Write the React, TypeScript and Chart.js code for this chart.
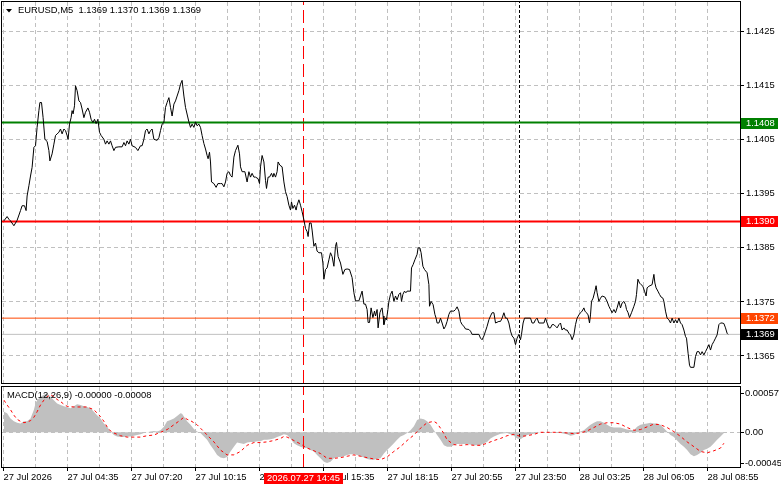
import React, { useEffect, useRef } from 'react';
import { Chart, registerables } from 'chart.js';

Chart.register(...registerables);

const FONT_FAMILY = '"Liberation Sans", Arial, sans-serif';
const FONT_SIZE = 9.4;
const GRID_COLOR = '#c0c0c0';

const headerText = 'EURUSD,M5  1.1369 1.1370 1.1369 1.1369';
const macdTitle = 'MACD(12,26,9) -0.00000 -0.00008';

// [bar index (M5 bars from 27 Jul 00:00), close price]
const priceSeries: [number, number][] = [
  [0.2, 1.139], [1.8, 1.13908], [2.7, 1.13903], [3.5, 1.139], [5.2, 1.13891], [6.8, 1.13901], [8.5, 1.13919],
  [9.3, 1.13928], [10.5, 1.13928], [11.3, 1.13919], [11.8, 1.13946], [12.7, 1.13965], [13.5, 1.13983], [14.3, 1.13999],
  [15.2, 1.14036], [16, 1.14039], [16.8, 1.14073], [17.7, 1.14104], [18.2, 1.14119], [19, 1.14119], [19.8, 1.14091],
  [20.7, 1.14051], [21.8, 1.14047], [22.7, 1.1403], [23.2, 1.14011], [24.3, 1.14024], [25.2, 1.14042], [26, 1.14058],
  [26.8, 1.14061], [27.7, 1.14064], [28.5, 1.1407], [29.3, 1.14061], [30.2, 1.1407], [31, 1.14067], [31.8, 1.14058],
  [32.3, 1.14051], [33, 1.14079], [33.8, 1.14091], [34.3, 1.14104], [34.8, 1.14098], [35.5, 1.14113], [36, 1.1415],
  [36.8, 1.14141], [37.7, 1.14122], [38.5, 1.14119], [39.3, 1.14107], [40.2, 1.14091], [41, 1.14101], [42.2, 1.14109],
  [43, 1.14101], [43.8, 1.14088], [44.7, 1.14082], [45.5, 1.14088], [46.3, 1.1408], [47.2, 1.14088], [48, 1.14064],
  [48.8, 1.14058], [50.2, 1.14051], [51, 1.14042], [51.8, 1.14048], [52.7, 1.14042], [53.5, 1.14048], [54.3, 1.14039],
  [55.2, 1.1403], [56, 1.14036], [57.7, 1.14037], [59.3, 1.14037], [60.2, 1.14045], [61, 1.14039], [61.8, 1.14048],
  [62.7, 1.14042], [63.5, 1.14051], [64.3, 1.14039], [66, 1.14036], [67.2, 1.1403], [68.5, 1.14039], [69.3, 1.14039],
  [70.2, 1.14051], [71, 1.14067], [71.8, 1.1407], [72.7, 1.14061], [73.5, 1.14067], [74.3, 1.1407], [75.2, 1.14051],
  [76.8, 1.14049], [77.7, 1.14054], [78.5, 1.14067], [79.3, 1.14079], [80.2, 1.14082], [81, 1.1411], [81.8, 1.14119],
  [82.7, 1.14128], [83.5, 1.1411], [84.3, 1.14094], [85.2, 1.14116], [86, 1.14122], [86.8, 1.14131], [87.7, 1.14141],
  [88.5, 1.14153], [89.3, 1.1416], [90.2, 1.14131], [91, 1.1411], [92.7, 1.14083], [93.5, 1.14073], [94.3, 1.14079],
  [95.2, 1.14073], [96, 1.14083], [96.8, 1.14076], [97.7, 1.14079], [98.5, 1.14073], [99.3, 1.14058], [100.2, 1.14043],
  [101, 1.14033], [101.8, 1.14021], [102.3, 1.14015], [103, 1.14027], [103.5, 1.14009], [104, 1.13972], [105.2, 1.13969],
  [106.3, 1.13962], [107.2, 1.13969], [108.5, 1.13969], [109.3, 1.13969], [110.2, 1.13963], [111, 1.13972], [111.8, 1.13988],
  [112.7, 1.13991], [113.5, 1.13984], [114.3, 1.13981], [115.2, 1.14018], [116, 1.1403], [117.2, 1.1404], [118, 1.14024],
  [118.5, 1.14], [119.3, 1.13991], [120.7, 1.13991], [121.8, 1.13972], [122.7, 1.13991], [123.5, 1.13981], [124.3, 1.13988],
  [125.2, 1.13981], [126, 1.13981], [127.3, 1.13978], [128, 1.13969], [128.5, 1.14], [129.3, 1.14021], [130.2, 1.14009],
  [131, 1.13975], [131.5, 1.1396], [132.3, 1.13981], [133, 1.13981], [134, 1.13988], [134.7, 1.13981], [135.2, 1.13988],
  [136, 1.13981], [136.8, 1.13991], [137.3, 1.14009], [138.2, 1.14003], [139.3, 1.14], [140.2, 1.13972], [141, 1.13954],
  [141.8, 1.13945], [142.7, 1.13929], [143.5, 1.1392], [144, 1.13935], [144.7, 1.13923], [145.5, 1.13929], [146.3, 1.1392],
  [146.8, 1.13929], [147.7, 1.13939], [148.5, 1.13929], [149.3, 1.13917], [150.2, 1.13902], [151, 1.13886], [151.8, 1.1388],
  [152.3, 1.13871], [153, 1.13896], [153.8, 1.13896], [154.3, 1.13883], [155.2, 1.13853], [156, 1.13859], [156.8, 1.13844],
  [157.7, 1.13841], [159, 1.13841], [159.7, 1.13822], [160.2, 1.13792], [161, 1.1381], [161.8, 1.13813], [162.7, 1.13828],
  [163.5, 1.13841], [164.3, 1.13834], [165.2, 1.13816], [166, 1.13853], [166.5, 1.1386], [167.3, 1.13834], [168.5, 1.13822],
  [169.7, 1.13801], [170.7, 1.1381], [171.8, 1.13811], [173, 1.1381], [174.3, 1.13795], [175.2, 1.13767], [176, 1.13752],
  [177.7, 1.13752], [178.5, 1.13761], [179.3, 1.1377], [180.2, 1.13746], [181, 1.13746], [181.8, 1.13736], [182.3, 1.13712],
  [183, 1.13712], [183.8, 1.13739], [184.7, 1.13721], [185.5, 1.13733], [186, 1.13724], [186.8, 1.13736], [187.3, 1.13702],
  [188.2, 1.1373], [188.8, 1.13736], [189.3, 1.13739], [189.8, 1.13724], [190.2, 1.13708], [191, 1.1372], [191.5, 1.13717],
  [192.2, 1.13736], [192.7, 1.13751], [193.5, 1.13764], [194.3, 1.1377], [195.2, 1.13751], [196, 1.13761], [196.8, 1.13754],
  [197.7, 1.13764], [198.5, 1.13767], [199, 1.13751], [199.7, 1.13764], [200.5, 1.1377], [201.2, 1.13767], [201.8, 1.1377],
  [203.5, 1.1377], [204, 1.13813], [204.8, 1.13819], [205.7, 1.13828], [206.8, 1.13838], [207.3, 1.1385], [208.2, 1.1385],
  [208.8, 1.13841], [209.7, 1.13816], [210.5, 1.1381], [211.8, 1.13804], [212.7, 1.13782], [213, 1.13742], [213.8, 1.13751],
  [214.8, 1.13745], [215.7, 1.13727], [216.3, 1.1372], [216.8, 1.13711], [217.7, 1.13711], [218.5, 1.1372], [219.3, 1.13711],
  [220.2, 1.137], [221, 1.13705], [221.8, 1.13714], [222.7, 1.13727], [223.5, 1.13733], [225.2, 1.13733], [226, 1.13736],
  [226.8, 1.13741], [227.7, 1.13733], [228.5, 1.13714], [229.3, 1.13708], [230.2, 1.13705], [231, 1.137], [232.7, 1.13699],
  [233.5, 1.13696], [234.3, 1.1369], [237.7, 1.1369], [238.5, 1.13683], [239.3, 1.1368], [240.2, 1.13687], [241, 1.13696],
  [241.8, 1.13705], [242.7, 1.13717], [243.5, 1.13724], [244.3, 1.1373], [245.2, 1.1373], [246, 1.13711], [247.7, 1.13714],
  [248.5, 1.13714], [249.3, 1.1372], [250.2, 1.1373], [251, 1.1372], [251.8, 1.1372], [252.7, 1.13711], [253.5, 1.13696],
  [254.3, 1.13687], [255.2, 1.13683], [256, 1.13671], [256.8, 1.13683], [257.7, 1.1369], [258.5, 1.1368], [259, 1.1369],
  [259.8, 1.13711], [260.5, 1.1372], [263.5, 1.1372], [264.3, 1.13711], [265.2, 1.13711], [266, 1.13717], [266.8, 1.1372],
  [267.7, 1.13711], [270.2, 1.13711], [271, 1.1372], [271.8, 1.13711], [272.7, 1.13702], [273.5, 1.13702], [274.3, 1.13708],
  [275.2, 1.13708], [276, 1.13705], [276.8, 1.13702], [277.7, 1.13708], [278.5, 1.13711], [279.3, 1.13698], [280.2, 1.13702],
  [281, 1.13698], [281.8, 1.13698], [282.7, 1.13692], [283.5, 1.13689], [284.3, 1.1368], [285.2, 1.13689], [286, 1.13708],
  [286.8, 1.1372], [287.7, 1.13726], [288.5, 1.1373], [289.3, 1.13733], [290.2, 1.13739], [290.7, 1.13733], [291.5, 1.1373],
  [292.3, 1.13726], [293, 1.13711], [293.5, 1.13726], [294, 1.13751], [294.8, 1.13757], [295.7, 1.1377], [296.3, 1.1378],
  [296.8, 1.13767], [297.7, 1.13751], [298.5, 1.13757], [299.3, 1.13761], [300.7, 1.13759], [301.8, 1.13751], [302.7, 1.13742],
  [303.5, 1.13736], [304.3, 1.1373], [305.2, 1.13736], [306, 1.1373], [306.8, 1.13739], [307.7, 1.13751], [308.5, 1.13739],
  [309.3, 1.13748], [310.2, 1.13751], [311, 1.13745], [311.5, 1.13736], [312.3, 1.1373], [313, 1.13721], [314, 1.1373],
  [315.2, 1.13742], [316, 1.13751], [316.5, 1.13764], [317.2, 1.13792], [318, 1.13785], [318.8, 1.13782], [319.7, 1.13779],
  [320.5, 1.1377], [321.3, 1.13761], [321.8, 1.13776], [322.7, 1.13779], [324.3, 1.13782], [325.2, 1.13801], [325.7, 1.13785],
  [326.3, 1.13776], [327.2, 1.1377], [328, 1.13764], [328.8, 1.13759], [329.7, 1.13757], [330.2, 1.13751], [331, 1.13733],
  [331.8, 1.1372], [332.7, 1.13717], [333.5, 1.13711], [334.3, 1.1372], [335.2, 1.13711], [336, 1.13717], [336.8, 1.13711],
  [337.7, 1.1372], [338.5, 1.13711], [339.3, 1.13708], [340.2, 1.13698], [341, 1.13686], [341.5, 1.13683], [342.3, 1.13655],
  [343, 1.13633], [343.5, 1.13629], [345.2, 1.13629], [346, 1.13649], [346.8, 1.13658], [347.7, 1.13658], [348.5, 1.13652],
  [349.3, 1.13658], [350.2, 1.13652], [351, 1.13658], [351.8, 1.13664], [352.7, 1.13671], [353.5, 1.13661], [354.3, 1.13671],
  [355.2, 1.13677], [356, 1.13683], [356.8, 1.13689], [357.7, 1.13708], [358.5, 1.13711], [359.3, 1.13711], [360.2, 1.1371],
  [361, 1.13702], [361.8, 1.13692], [362.3, 1.1369],
];

// [bar index, MACD histogram value]
const macdHistogram: [number, number][] = [
  [0.2, 0.0003], [1.8, 0.00028], [3.5, 0.0002], [5.2, 0.00016], [6.8, 0.00014], [8.5, 0.00013], [10.2, 0.00016],
  [11.8, 0.00016], [13.5, 0.0002], [15.2, 0.00033], [16, 0.00042], [16.8, 0.00047], [18.5, 0.00052], [20.2, 0.00055],
  [21.8, 0.00057], [23.5, 0.00052], [25.2, 0.00047], [26.8, 0.00042], [28.5, 0.0004], [30.2, 0.00038], [31.8, 0.00037],
  [33.5, 0.00035], [35.2, 0.00038], [36.8, 0.00041], [38.5, 0.0004], [40.2, 0.00038], [41.8, 0.00037], [43.5, 0.00035],
  [45.2, 0.0003], [46.8, 0.00025], [48.5, 0.0002], [50.2, 0.00013], [51.8, 0.00008], [53.5, 0.00001], [55.2, -0.00004],
  [56.8, -0.00006], [58.5, -0.00007], [60.2, -0.00007], [61.8, -0.00006], [63.5, -0.00006], [65.2, -0.00005], [66.8, -0.00004],
  [68.5, -0.00003], [70.2, -0.00001], [71.8, 0], [73.5, 0.00001], [75.2, 0.00002], [76.8, 0.00001], [78.5, 0.00003],
  [80.2, 0.00008], [81.8, 0.00016], [83.5, 0.00018], [85.2, 0.0002], [86.8, 0.00024], [88.5, 0.00028], [89.3, 0.00027],
  [90.2, 0.00023], [91.8, 0.00016], [93.5, 0.00011], [95.2, 0.00005], [96.8, 0.00001], [98.5, -0.00001], [100.2, -0.00006],
  [101.8, -0.00011], [103.5, -0.00019], [105.2, -0.00026], [106.8, -0.00033], [108.5, -0.00037], [110.2, -0.00038],
  [111.8, -0.00036], [113.5, -0.00028], [115.2, -0.00021], [116.8, -0.00015], [118.5, -0.00016], [120.2, -0.00017],
  [121.8, -0.00015], [123.5, -0.00014], [125.2, -0.00014], [126.8, -0.00013], [128.5, -0.00013], [130.2, -0.00011],
  [131.8, -0.00011], [133.5, -0.0001], [135.2, -0.00009], [136.8, -0.00007], [138.5, -0.00005], [140.2, -0.00003],
  [141.8, -0.00004], [143.5, -0.00009], [145.2, -0.00016], [146.8, -0.00019], [148.5, -0.00021], [150.2, -0.00023],
  [151.8, -0.00023], [153.5, -0.00026], [155.2, -0.00028], [156.8, -0.00033], [158.5, -0.00038], [160.2, -0.00043],
  [161.8, -0.00045], [163.5, -0.00043], [165.2, -0.00038], [166.8, -0.00036], [168.5, -0.00036], [170.2, -0.00035],
  [171.8, -0.00033], [173.5, -0.00032], [175.2, -0.00032], [176.8, -0.00033], [178.5, -0.00035], [180.2, -0.00037],
  [181.8, -0.00039], [183.5, -0.0004], [185.2, -0.0004], [186.8, -0.00039], [188.5, -0.00038], [190.2, -0.00031],
  [191.8, -0.00026], [193.5, -0.00021], [195.2, -0.00016], [196.8, -0.00011], [198.5, -0.00006], [200.2, -0.00004],
  [201.8, -0.00001], [203.5, 0.00003], [205.2, 0.00009], [206.8, 0.00018], [208.5, 0.0002], [210.2, 0.00019],
  [211.8, 0.00016], [213.5, 0.00011], [215.2, 0.00003], [216.8, -0.00004], [218.5, -0.00011], [220.2, -0.00019],
  [221.8, -0.00021], [223.5, -0.00021], [225.2, -0.00019], [226.8, -0.00017], [228.5, -0.00017], [231.8, -0.00017],
  [235.2, -0.00019], [238.5, -0.00019], [240.2, -0.00016], [241.8, -0.00014], [243.5, -0.00009], [245.2, -0.00006],
  [248.5, -0.00002], [251.8, -0.00001], [255.2, -0.00005], [256.8, -0.00009], [258.5, -0.0001], [260.2, -0.00007],
  [261.8, -0.00004], [265.2, -0.00002], [268.5, 0], [271.8, 0], [275.2, 0], [278.5, -0.00001], [281.8, -0.00003],
  [283.5, -0.00005], [285.2, -0.00004], [288.5, 0.00001], [290.2, 0.00003], [291.8, 0.00007], [293.5, 0.00011],
  [295.2, 0.00014], [296.8, 0.00016], [298.5, 0.00016], [300.2, 0.00014], [301.8, 0.00011], [303.5, 0.00008],
  [305.2, 0.00007], [308.5, 0.00007], [311.8, 0.00004], [315.2, 0.00003], [316.8, 0.00008], [318.5, 0.00011],
  [320.2, 0.00012], [321.8, 0.00013], [323.5, 0.00014], [325.2, 0.00013], [326.8, 0.00013], [328.5, 0.00011],
  [330.2, 0.00006], [331.8, 0.00001], [333.5, -0.00004], [335.2, -0.00007], [336.8, -0.00012], [338.5, -0.00017],
  [340.2, -0.00021], [341.8, -0.00026], [343.5, -0.00032], [345.2, -0.00035], [346.8, -0.00033], [348.5, -0.0003],
  [350.2, -0.00026], [351.8, -0.00024], [353.5, -0.00021], [355.2, -0.00016], [356.8, -0.00011], [358.5, -0.00006],
  [360.2, -0.00001], [361.8, 0],
];

// [bar index, MACD signal value]
const macdSignal: [number, number][] = [
  [0.2, 0.00047], [1.8, 0.0004], [3.5, 0.00033], [5.2, 0.00025], [6.8, 0.00019], [8.5, 0.00016], [10.2, 0.00014],
  [11.8, 0.00015], [13.5, 0.00017], [15.2, 0.00022], [16.8, 0.0003], [18.5, 0.0004], [20.2, 0.00047], [21.8, 0.00052],
  [23.5, 0.00055], [25.2, 0.00052], [26.8, 0.00048], [28.5, 0.00045], [30.2, 0.00041], [31.8, 0.00038], [35.2, 0.00037],
  [38.5, 0.00037], [41.8, 0.00037], [45.2, 0.00033], [46.8, 0.00028], [48.5, 0.00023], [50.2, 0.00016], [51.8, 0.00008],
  [53.5, 0.00002], [55.2, -0.00001], [58.5, -0.00005], [61.8, -0.00007], [65.2, -0.00007], [68.5, -0.00007],
  [71.8, -0.00005], [75.2, -0.00004], [78.5, 0], [81.8, 0.00004], [85.2, 0.00011], [88.5, 0.00018], [90.2, 0.00022],
  [91.8, 0.00019], [93.5, 0.00017], [95.2, 0.00014], [96.8, 0.00011], [98.5, 0.00006], [100.2, 0.00001], [101.8, -0.00004],
  [105.2, -0.00014], [108.5, -0.00026], [111.8, -0.00033], [115.2, -0.00033], [118.5, -0.00028], [121.8, -0.00019],
  [125.2, -0.00015], [128.5, -0.00015], [131.8, -0.00014], [135.2, -0.00012], [138.5, -0.00009], [140.2, -0.00006],
  [141.8, -0.00007], [145.2, -0.00012], [148.5, -0.00017], [151.8, -0.00023], [155.2, -0.00027], [158.5, -0.00031],
  [161.8, -0.00038], [165.2, -0.00038], [168.5, -0.00037], [171.8, -0.00035], [175.2, -0.00033], [178.5, -0.00035],
  [181.8, -0.00037], [185.2, -0.00039], [188.5, -0.0004], [191.8, -0.00036], [195.2, -0.00028], [198.5, -0.00021],
  [201.8, -0.00012], [205.2, -0.00004], [208.5, 0.00006], [211.8, 0.00014], [215.2, 0.00016], [216.8, 0.00013],
  [218.5, 0.00006], [220.2, -0.00002], [221.8, -0.00011], [225.2, -0.00018], [228.5, -0.00019], [231.8, -0.00018],
  [235.2, -0.00019], [238.5, -0.00019], [241.8, -0.00016], [245.2, -0.00012], [248.5, -0.00009], [251.8, -0.00005],
  [255.2, -0.00003], [258.5, -0.00006], [261.8, -0.00005], [265.2, -0.00003], [268.5, 0], [271.8, 0], [275.2, 0],
  [278.5, 0], [281.8, -0.00001], [285.2, -0.00002], [288.5, -0.00001], [291.8, 0.00002], [295.2, 0.00007],
  [298.5, 0.00012], [301.8, 0.00014], [305.2, 0.00014], [308.5, 0.00012], [311.8, 0.00007], [315.2, 0.00003],
  [318.5, 0.00004], [321.8, 0.00008], [325.2, 0.00012], [328.5, 0.00011], [331.8, 0.00007], [335.2, 0.00001],
  [338.5, -0.00006], [341.8, -0.00014], [345.2, -0.00021], [348.5, -0.00028], [351.8, -0.0003], [355.2, -0.00027],
  [358.5, -0.00023], [360.2, -0.00016],
];

const priceTicks = [1.1365, 1.1375, 1.1385, 1.1395, 1.1405, 1.1415, 1.1425];
const macdTicks = [-0.00045, 0, 0.00057];

// horizontal levels: resistance (green), support (red), target (orange), current bid (grey)
const levelValues = [1.14082, 1.13899, 1.1372, 1.1369];
const levelLineColors = ['#008000', '#ff0000', '#ff4500', '#c0c0c0'];
const levelBoxColors = ['#008000', '#ff0000', '#ff4500', '#000000'];
const levelLineWidths = [2, 2, 1, 1];

const timeLabelBars = [0, 32, 64, 96, 128, 160, 192, 224, 256, 288, 320, 352];
const timeLabels = [
  '27 Jul 2026', '27 Jul 04:35', '27 Jul 07:20', '27 Jul 10:15', '27 Jul 12:55', '27 Jul 15:35',
  '27 Jul 18:15', '27 Jul 20:55', '27 Jul 23:50', '28 Jul 03:25', '28 Jul 06:05', '28 Jul 08:55',
];
const gridBars = [0, 16, 32, 48, 64, 80, 96, 112, 128, 144, 160, 176, 192, 208, 224, 240, 256, 272, 288, 304, 320, 336, 352];

const selectedBar = 150; // crosshair / vertical line 27.07 14:45
const selectedLabel = '2026.07.27 14:45';
const daySeparatorBar = 258; // 28 Jul 00:00

const X_MIN = -0.75;
const X_MAX = 368.25;
const PRICE_MIN = 1.136;
const PRICE_MAX = 1.14305;
const MACD_MIN = -0.000507;
const MACD_MAX = 0.000662;

const font = { family: FONT_FAMILY, size: FONT_SIZE };
const fontCss = `${FONT_SIZE}px ${FONT_FAMILY}`;

function resetPadding(s: any) {
  s.paddingTop = 0;
  s.paddingBottom = 0;
  s.paddingLeft = 0;
  s.paddingRight = 0;
}

function vline(bar: number, lo: number, hi: number, color: string, dash: number[], order: number) {
  return {
    data: [{ x: bar, y: lo }, { x: bar, y: hi }],
    borderColor: color,
    borderWidth: 1,
    borderDash: dash,
    pointRadius: 0,
    fill: false,
    order,
  };
}

export default function App() {
  const mainRef = useRef<HTMLCanvasElement>(null);
  const macdRef = useRef<HTMLCanvasElement>(null);

  useEffect(() => {
    document.body.style.margin = '0';

    const framePluginMain = {
      id: 'frameMain',
      afterDraw(chart: any) {
        const ctx = chart.ctx;
        const y = chart.scales.y;
        ctx.save();
        ctx.strokeStyle = '#000';
        ctx.lineWidth = 1;
        ctx.strokeRect(1.5, 1.5, 739, 382);
        // level price boxes on the right scale
        ctx.font = fontCss;
        ctx.textBaseline = 'middle';
        ctx.textAlign = 'left';
        levelValues.forEach((v, i) => {
          const py = Math.round(y.getPixelForValue(v));
          ctx.fillStyle = levelBoxColors[i];
          ctx.fillRect(741, py - 5, 37, 11);
          ctx.fillStyle = '#fff';
          ctx.fillText(v.toFixed(4), 746, py + 0.5);
        });
        // header
        ctx.fillStyle = '#000';
        ctx.beginPath();
        ctx.moveTo(6, 9);
        ctx.lineTo(12, 9);
        ctx.lineTo(9, 12.5);
        ctx.closePath();
        ctx.fill();
        ctx.fillText(headerText, 18, 10.5);
        ctx.restore();
      },
    };

    const framePluginMacd = {
      id: 'frameMacd',
      afterDraw(chart: any) {
        const ctx = chart.ctx;
        const x = chart.scales.x;
        ctx.save();
        ctx.strokeStyle = '#000';
        ctx.lineWidth = 1;
        ctx.strokeRect(1.5, 2.5, 739, 81);
        ctx.font = fontCss;
        ctx.textBaseline = 'middle';
        ctx.textAlign = 'left';
        ctx.fillStyle = '#000';
        ctx.fillText(macdTitle, 7, 11);
        const px = x.getPixelForValue(selectedBar);
        ctx.fillStyle = '#ff0000';
        ctx.fillRect(Math.round(px - 40), 89, 79, 11);
        ctx.fillStyle = '#fff';
        ctx.textAlign = 'center';
        ctx.fillText(selectedLabel, px, 94.5);
        ctx.restore();
      },
    };

    const mainChart = new Chart(mainRef.current as HTMLCanvasElement, {
      type: 'line',
      data: {
        datasets: [
          {
            data: priceSeries.map(([b, p]) => ({ x: b, y: p })),
            borderColor: '#000',
            borderWidth: 1,
            pointRadius: 0,
            tension: 0,
            fill: false,
            order: 0,
          },
          ...levelValues.map((v, i) => ({
            data: [{ x: X_MIN, y: v }, { x: X_MAX, y: v }],
            borderColor: levelLineColors[i],
            borderWidth: levelLineWidths[i],
            pointRadius: 0,
            fill: false,
            order: 1,
          })),
          vline(selectedBar, PRICE_MIN, PRICE_MAX, '#ff0000', [13, 5], 2),
          vline(daySeparatorBar, PRICE_MIN, PRICE_MAX, '#000', [3, 2], 2),
        ] as any,
      },
      options: {
        animation: false,
        responsive: false,
        maintainAspectRatio: false,
        events: [],
        layout: { padding: { left: 2, top: 2, right: 0, bottom: 1 } },
        plugins: { legend: { display: false }, tooltip: { enabled: false } },
        scales: {
          x: {
            type: 'linear',
            min: X_MIN,
            max: X_MAX,
            afterBuildTicks: (s: any) => {
              s.ticks = gridBars.map((v) => ({ value: v }));
            },
            ticks: { display: false },
            grid: { color: GRID_COLOR, lineWidth: 1, drawTicks: false },
            border: { display: false, dash: [4, 3] },
            afterFit: (s: any) => {
              s.height = 0;
              resetPadding(s);
            },
          },
          y: {
            type: 'linear',
            position: 'right',
            min: PRICE_MIN,
            max: PRICE_MAX,
            afterBuildTicks: (s: any) => {
              s.ticks = priceTicks.map((v) => ({ value: v }));
            },
            ticks: {
              callback: (v: any) => Number(v).toFixed(4),
              color: '#000',
              font,
              padding: 2,
              autoSkip: false,
            },
            grid: { color: GRID_COLOR, lineWidth: 1, drawTicks: true, tickLength: 4, tickColor: '#000', tickBorderDash: [] } as any,
            border: { display: false, dash: [4, 3] },
            afterFit: (s: any) => {
              s.width = 41;
              resetPadding(s);
            },
          },
        },
      } as any,
      plugins: [framePluginMain],
    });

    const macdChart = new Chart(macdRef.current as HTMLCanvasElement, {
      type: 'line',
      data: {
        datasets: [
          {
            data: macdSignal.map(([b, v]) => ({ x: b, y: v })),
            borderColor: '#ff0000',
            borderWidth: 1,
            borderDash: [3, 3],
            pointRadius: 0,
            tension: 0,
            fill: false,
            order: 0,
          },
          vline(selectedBar, MACD_MIN, MACD_MAX, '#ff0000', [13, 5], 1),
          vline(daySeparatorBar, MACD_MIN, MACD_MAX, '#000', [3, 2], 1),
          {
            data: macdHistogram.map(([b, v]) => ({ x: b, y: v })),
            borderColor: 'rgba(0,0,0,0)',
            borderWidth: 0,
            backgroundColor: '#c0c0c0',
            fill: 'origin',
            pointRadius: 0,
            tension: 0,
            order: 2,
          },
        ] as any,
      },
      options: {
        animation: false,
        responsive: false,
        maintainAspectRatio: false,
        events: [],
        layout: { padding: { left: 2, top: 3, right: 0, bottom: 0 } },
        plugins: { legend: { display: false }, tooltip: { enabled: false } },
        scales: {
          x: {
            type: 'linear',
            min: X_MIN,
            max: X_MAX,
            afterBuildTicks: (s: any) => {
              s.ticks = gridBars.map((v) => ({ value: v }));
            },
            ticks: {
              callback: (v: any) => {
                const i = timeLabelBars.indexOf(Number(v));
                return i >= 0 ? timeLabels[i] : '';
              },
              align: 'start',
              color: '#000',
              font,
              padding: 1,
              autoSkip: false,
              maxRotation: 0,
              minRotation: 0,
            },
            grid: {
              color: GRID_COLOR,
              lineWidth: 1,
              drawTicks: true,
              tickLength: 4,
              tickColor: (c: any) => (c.tick && timeLabelBars.includes(c.tick.value) ? '#000' : 'rgba(0,0,0,0)'),
              tickBorderDash: [],
            } as any,
            border: { display: false, dash: [4, 3] },
            afterFit: (s: any) => {
              s.height = 22;
              resetPadding(s);
            },
          },
          y: {
            type: 'linear',
            position: 'right',
            min: MACD_MIN,
            max: MACD_MAX,
            afterBuildTicks: (s: any) => {
              s.ticks = macdTicks.map((v) => ({ value: v }));
            },
            ticks: {
              callback: (v: any) => (Number(v) === 0 ? '0.00' : Number(v).toFixed(5)),
              color: '#000',
              font,
              padding: 1,
              autoSkip: false,
            },
            grid: {
              color: (c: any) => (c.tick && c.tick.value === 0 ? GRID_COLOR : 'rgba(0,0,0,0)'),
              lineWidth: 1,
              drawTicks: true,
              tickLength: 4,
              tickColor: '#000',
              tickBorderDash: [],
            } as any,
            border: { display: false, dash: [4, 3] },
            afterFit: (s: any) => {
              s.width = 41;
              resetPadding(s);
            },
          },
        },
      } as any,
      plugins: [framePluginMacd],
    });

    return () => {
      mainChart.destroy();
      macdChart.destroy();
    };
  }, []);

  return (
    <div style={{ position: 'relative', width: 781, height: 489, background: '#fff', overflow: 'hidden' }}>
      <canvas
        ref={mainRef}
        width={781}
        height={384}
        style={{ position: 'absolute', left: 0, top: 0, width: 781, height: 384 }}
      />
      <canvas
        ref={macdRef}
        width={781}
        height={105}
        style={{ position: 'absolute', left: 0, top: 384, width: 781, height: 105 }}
      />
    </div>
  );
}
